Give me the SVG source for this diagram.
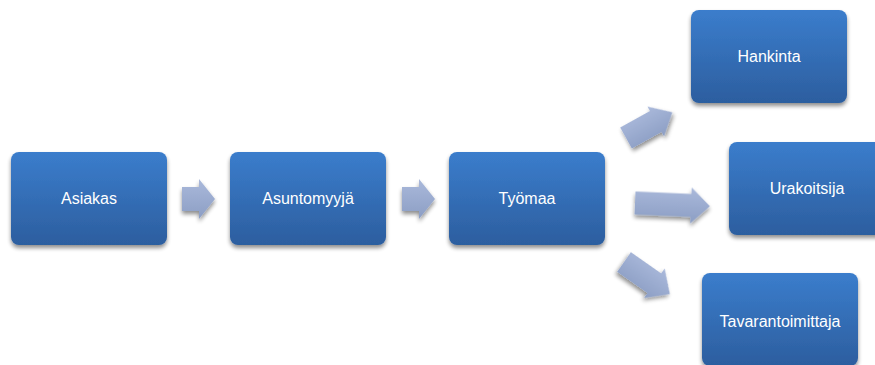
<svg xmlns="http://www.w3.org/2000/svg" width="875" height="365" viewBox="0 0 875 365">
<defs>
<linearGradient id="boxg" x1="0" y1="0" x2="0" y2="1">
<stop offset="0" stop-color="#3b7dcc"/>
<stop offset="1" stop-color="#2c5e9f"/>
</linearGradient>
<linearGradient id="arrg" x1="0" y1="0" x2="0" y2="1">
<stop offset="0" stop-color="#aab9db"/>
<stop offset="1" stop-color="#8c9ec4"/>
</linearGradient>
<filter id="sh" x="-20%" y="-20%" width="140%" height="150%">
<feGaussianBlur in="SourceAlpha" stdDeviation="2"/>
<feOffset dx="0" dy="3" result="b"/>
<feComponentTransfer><feFuncA type="linear" slope="0.45"/></feComponentTransfer>
<feMerge><feMergeNode/><feMergeNode in="SourceGraphic"/></feMerge>
</filter>
<polygon id="sarrow" points="0,-12 17,-12 17,-20 33,0 17,20 17,12 0,12"/>
</defs>
<style>
.box{fill:url(#boxg);filter:url(#sh)}
.lbl{font-family:"Liberation Sans",Arial,sans-serif;font-size:16px;fill:#ffffff;text-anchor:middle}
.arr{fill:url(#arrg);filter:url(#sh)}
</style>
<rect width="875" height="365" fill="#ffffff"/>
<g id="connectors">
<use href="#sarrow" class="arr" transform="translate(182,199)"/>
<use href="#sarrow" class="arr" transform="translate(402,199)"/>
<polygon class="arr" points="0,-12 34,-12 34,-17 53,0 34,17 34,12 0,12" transform="translate(626,138) rotate(-29)"/>
<polygon class="arr" points="0,-11.5 56,-11.5 56,-18 75,0 56,18 56,11.5 0,11.5" transform="translate(635,203) rotate(2.5)"/>
<polygon class="arr" points="0,-12 37,-12 37,-18 56,0 37,18 37,12 0,12" transform="translate(624,262) rotate(35)"/>
</g>
<g id="node-asiakas">
<rect class="box" x="11" y="152" width="156" height="93" rx="8"/>
<text class="lbl" x="89" y="204">Asiakas</text>
</g>
<g id="node-asuntomyyja">
<rect class="box" x="230" y="152" width="156" height="93" rx="8"/>
<text class="lbl" x="308" y="204">Asuntomyyjä</text>
</g>
<g id="node-tyomaa">
<rect class="box" x="449" y="152" width="156" height="93" rx="8"/>
<text class="lbl" x="527" y="204">Työmaa</text>
</g>
<g id="node-hankinta">
<rect class="box" x="691" y="10" width="156" height="93" rx="8"/>
<text class="lbl" x="769" y="62">Hankinta</text>
</g>
<g id="node-urakoitsija">
<rect class="box" x="729" y="142" width="156" height="93" rx="8"/>
<text class="lbl" x="807" y="194">Urakoitsija</text>
</g>
<g id="node-tavarantoimittaja">
<rect class="box" x="702" y="273" width="156" height="93" rx="8"/>
<text class="lbl" x="780" y="327">Tavarantoimittaja</text>
</g>
</svg>
